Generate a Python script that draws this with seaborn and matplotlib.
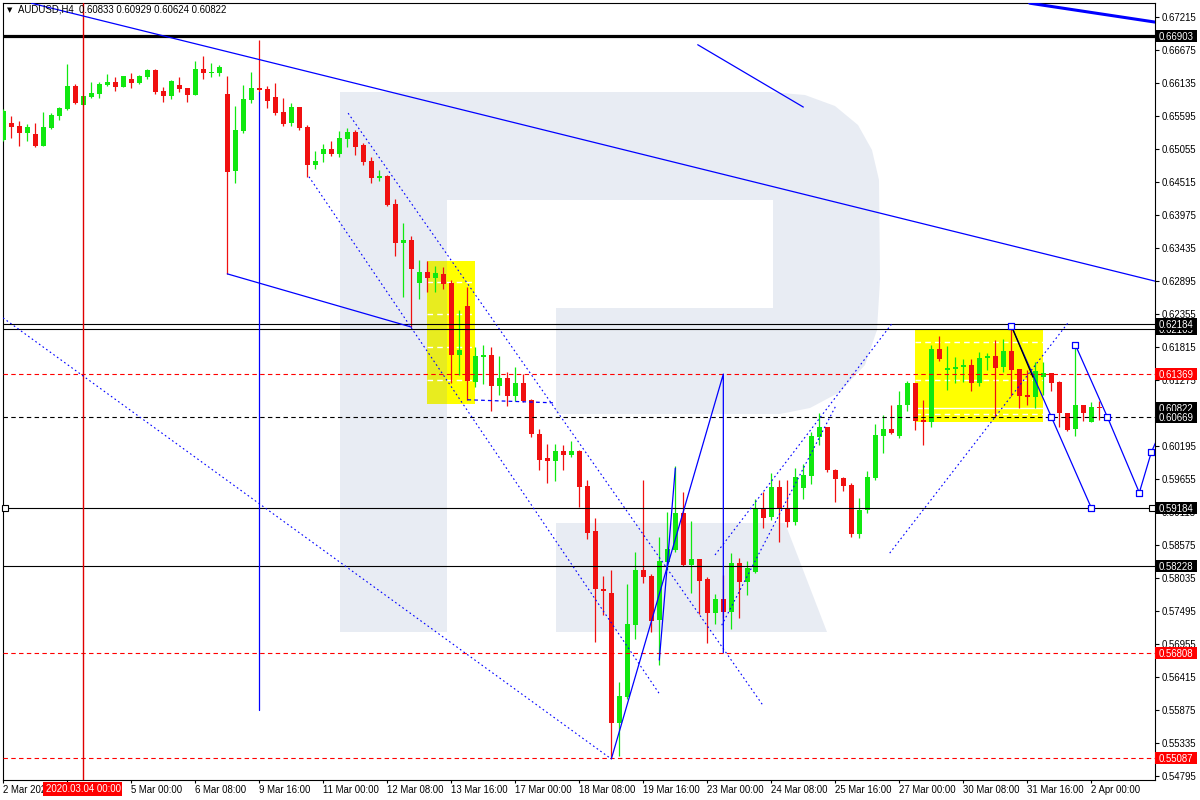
import numpy as np
import pandas as pd
import seaborn as sns
import matplotlib.pyplot as plt
from matplotlib.patches import Rectangle, Polygon
from matplotlib.transforms import blended_transform_factory

# AUDUSD H4 candles, bar 0 = 2 Mar 2020 08:00 (weekend bars are skipped)
open_ = [
    0.6520, 0.6548, 0.6543, 0.6532, 0.6530, 0.6510, 0.6540, 0.6559, 0.6571, 0.6608,
    0.6577, 0.6590, 0.6595, 0.6610, 0.6615, 0.6607, 0.6620, 0.6613, 0.6623, 0.6635,
    0.6600, 0.6592, 0.6610, 0.6605, 0.6594, 0.6636, 0.6630, 0.6630, 0.6595, 0.6469,
    0.6535, 0.6586, 0.6605, 0.6604, 0.6590, 0.6566, 0.6548, 0.6574, 0.6541, 0.6479,
    0.6497, 0.6505, 0.6497, 0.6522, 0.6533, 0.6512, 0.6486, 0.6458, 0.6461, 0.6415,
    0.6351, 0.6356, 0.6286, 0.6304, 0.6294, 0.6301, 0.6286, 0.6168, 0.6248, 0.6124,
    0.6165, 0.6168, 0.6117, 0.6131, 0.6101, 0.6122, 0.6095, 0.6039, 0.5999, 0.5995,
    0.6011, 0.6004, 0.6011, 0.5954, 0.5880, 0.5785, 0.5779, 0.5566, 0.5608, 0.5726,
    0.5816, 0.5806, 0.5735, 0.5829, 0.5849, 0.5910, 0.5824, 0.5834, 0.5801, 0.5746,
    0.5769, 0.5748, 0.5828, 0.5797, 0.5813, 0.5916, 0.5903, 0.5952, 0.5918, 0.5895,
    0.5950, 0.5970, 0.6034, 0.6050, 0.5980, 0.5967, 0.5955, 0.5875, 0.5915, 0.5967,
    0.6036, 0.6047, 0.6036, 0.6086, 0.6122, 0.6062, 0.6059, 0.6178, 0.6144, 0.6145,
    0.6149, 0.6152, 0.6122, 0.6163, 0.6167, 0.6149, 0.6175, 0.6145, 0.6103, 0.6099,
    0.6132, 0.6139, 0.6124, 0.6073, 0.6047, 0.6086, 0.6059, 0.60833,
]
high = [
    0.6571, 0.6559, 0.6551, 0.6546, 0.6548, 0.6566, 0.6564, 0.6574, 0.6644, 0.6612,
    0.6592, 0.6615, 0.6615, 0.6628, 0.6623, 0.6625, 0.6630, 0.6626, 0.6636, 0.6636,
    0.6607, 0.6618, 0.6623, 0.6605, 0.6649, 0.6658, 0.6646, 0.6643, 0.6625, 0.6576,
    0.6610, 0.6631, 0.6684, 0.6608, 0.6613, 0.6589, 0.6581, 0.6574, 0.6545, 0.6502,
    0.6514, 0.6518, 0.6535, 0.6540, 0.6536, 0.6515, 0.6492, 0.6471, 0.6463, 0.6424,
    0.6384, 0.6363, 0.6324, 0.6322, 0.6314, 0.6312, 0.6291, 0.6242, 0.6280, 0.6181,
    0.6185, 0.6181, 0.6167, 0.6140, 0.6149, 0.6137, 0.6096, 0.6047, 0.6022, 0.6022,
    0.6021, 0.6027, 0.6013, 0.5964, 0.5901, 0.5806, 0.5816, 0.5633, 0.5793, 0.5846,
    0.5964, 0.5810, 0.5870, 0.5911, 0.5987, 0.5944, 0.5897, 0.5834, 0.5805, 0.5777,
    0.5808, 0.5844, 0.5836, 0.5831, 0.5932, 0.5944, 0.5975, 0.5964, 0.5964, 0.5983,
    0.5990, 0.6042, 0.6073, 0.6050, 0.5981, 0.5969, 0.5959, 0.5934, 0.5978, 0.6055,
    0.6070, 0.6086, 0.6109, 0.6126, 0.6122, 0.6095, 0.6185, 0.6199, 0.6183, 0.6165,
    0.6162, 0.6162, 0.6173, 0.6171, 0.6193, 0.6194, 0.6214, 0.6145, 0.6144, 0.6157,
    0.6157, 0.6139, 0.6126, 0.6073, 0.6186, 0.6086, 0.6091, 0.60929,
]
low = [
    0.6518, 0.6523, 0.6510, 0.6518, 0.6509, 0.6510, 0.6538, 0.6553, 0.6569, 0.6579,
    0.6577, 0.6589, 0.6589, 0.6608, 0.6600, 0.6607, 0.6605, 0.6612, 0.6620, 0.6595,
    0.6582, 0.6587, 0.6599, 0.6582, 0.6594, 0.6620, 0.6623, 0.6625, 0.6301, 0.6450,
    0.6532, 0.6581, 0.6599, 0.6572, 0.6561, 0.6543, 0.6543, 0.6536, 0.6460, 0.6473,
    0.6484, 0.6494, 0.6492, 0.6509, 0.6496, 0.6479, 0.6450, 0.6453, 0.6412, 0.6330,
    0.6263, 0.6214, 0.6260, 0.6271, 0.6271, 0.6276, 0.6122, 0.6135, 0.6095, 0.6116,
    0.6121, 0.6077, 0.6103, 0.6085, 0.6093, 0.6091, 0.6034, 0.5980, 0.5959, 0.5962,
    0.5980, 0.6001, 0.5919, 0.5867, 0.5698, 0.5743, 0.5509, 0.5512, 0.5605, 0.5703,
    0.5795, 0.5715, 0.5661, 0.5816, 0.5846, 0.5823, 0.5779, 0.5744, 0.5697, 0.5728,
    0.5738, 0.5720, 0.5738, 0.5775, 0.5811, 0.5885, 0.5898, 0.5862, 0.5887, 0.5890,
    0.5932, 0.5957, 0.6021, 0.5977, 0.5928, 0.5946, 0.5870, 0.5869, 0.5910, 0.5964,
    0.6008, 0.6039, 0.6032, 0.6077, 0.6045, 0.6021, 0.6050, 0.6158, 0.6111, 0.6122,
    0.6124, 0.6109, 0.6117, 0.6144, 0.6067, 0.6140, 0.6101, 0.6082, 0.6086, 0.6082,
    0.6103, 0.6109, 0.6050, 0.6044, 0.6036, 0.6060, 0.6059, 0.60624,
]
close = [
    0.6567, 0.6541, 0.6532, 0.6541, 0.6510, 0.6541, 0.6561, 0.6572, 0.6608, 0.6581,
    0.6592, 0.6597, 0.6612, 0.6615, 0.6607, 0.6625, 0.6613, 0.6625, 0.6635, 0.6599,
    0.6592, 0.6617, 0.6604, 0.6594, 0.6636, 0.6630, 0.6631, 0.6640, 0.6468, 0.6536,
    0.6587, 0.6605, 0.6602, 0.6584, 0.6564, 0.6546, 0.6574, 0.6540, 0.6479, 0.6486,
    0.6505, 0.6497, 0.6523, 0.6533, 0.6509, 0.6484, 0.6458, 0.6461, 0.6414, 0.6351,
    0.6356, 0.6309, 0.6304, 0.6294, 0.6302, 0.6284, 0.6168, 0.6176, 0.6126, 0.6167,
    0.6168, 0.6117, 0.6131, 0.6101, 0.6122, 0.6093, 0.6039, 0.5996, 0.5995, 0.6011,
    0.6004, 0.6011, 0.5952, 0.5877, 0.5785, 0.5782, 0.5566, 0.5610, 0.5728, 0.5816,
    0.5805, 0.5733, 0.5831, 0.5851, 0.5910, 0.5824, 0.5834, 0.5798, 0.5746, 0.5769,
    0.5748, 0.5828, 0.5797, 0.5819, 0.5916, 0.5901, 0.5952, 0.5918, 0.5895, 0.5969,
    0.5972, 0.6036, 0.6050, 0.5980, 0.5965, 0.5954, 0.5875, 0.5915, 0.5969, 0.6037,
    0.6047, 0.6041, 0.6086, 0.6122, 0.6060, 0.6059, 0.6178, 0.6162, 0.6147, 0.6149,
    0.6152, 0.6122, 0.6163, 0.6167, 0.6147, 0.6175, 0.6144, 0.6101, 0.6099, 0.6142,
    0.6139, 0.6122, 0.6073, 0.6045, 0.6086, 0.6073, 0.6083, 0.60822,
]

price_ticks = [
    0.67215, 0.66675, 0.66135, 0.65595, 0.65055, 0.64515, 0.63975, 0.63435,
    0.62895, 0.62355, 0.61815, 0.61275, 0.60735, 0.60195, 0.59655, 0.59115,
    0.58575, 0.58035, 0.57495, 0.56955, 0.56415, 0.55875, 0.55335, 0.54795,
]
# the 3 Mar 16:00 label sits under the red cursor tag, so it stays empty
time_tick_bars = [0, 8, 16, 24, 32, 40, 48, 56, 64, 72, 80, 88, 96, 104, 112, 120, 128, 136]
time_tick_labels = [
    "2 Mar 2020", "", "5 Mar 00:00", "6 Mar 08:00", "9 Mar 16:00",
    "11 Mar 00:00", "12 Mar 08:00", "13 Mar 16:00", "17 Mar 00:00", "18 Mar 08:00",
    "19 Mar 16:00", "23 Mar 00:00", "24 Mar 08:00", "25 Mar 16:00", "27 Mar 00:00",
    "30 Mar 08:00", "31 Mar 16:00", "2 Apr 00:00",
]
cursor_bar = 10
cursor_label = "2020.03.04 00:00"

# horizontal levels
thick_level = 0.66903
black_levels = [0.62184, 0.62105, 0.59184, 0.58228]
red_dashed_levels = [0.61369, 0.56808, 0.55087]
black_dashed_level = 0.60669
# price tags in drawing order (later ones cover earlier ones)
tag_prices = [0.66903, 0.62105, 0.62184, 0.61369, 0.60822, 0.60669, 0.59184, 0.58228,
              0.56808, 0.55087]
tag_is_red = [False, False, False, True, False, False, False, False, True, True]

# drawn objects as (bar, price) points
ray_top = [(3.5, 0.6744), (144.0, 0.6289)]
short_top = [(86.8, 0.6676), (100.0, 0.6574)]
thick_top = [(128.3, 0.6744), (144.0, 0.6713)]
channel_base = [(28, 0.6301), (51, 0.6214)]
rebound_leg = [(76, 0.5507), (90, 0.6137), (90, 0.5681)]
spike_leg = [(82, 0.5669), (84, 0.5983)]
vertical_mark = [(32, 0.6599), (32, 0.5587)]
forecast_a = [(126, 0.6216), (131, 0.6067), (136, 0.5918)]
forecast_a_black = [(126, 0.6216), (128.7, 0.6132)]
forecast_b = [(134, 0.6185), (138, 0.6067), (142, 0.5943), (143.5, 0.6009), (144.2, 0.6030)]
dotted_lines = [
    [(-0.04, 0.6229), (75.8, 0.5509)],
    [(38.2, 0.6460), (82.1, 0.5612)],
    [(43.1, 0.6564), (95.0, 0.5594)],
    [(88.96, 0.5841), (111.1, 0.6220)],
    [(89.8, 0.5726), (104.1, 0.6086)],
    [(110.8, 0.5844), (133.1, 0.6221)],
]
dashed_flat = [(58, 0.6095), (68.7, 0.6090)]
level_squares = [(0.2, 0.59184), (143.6, 0.59184)]

# yellow boxes: bar from, bar to, price low, price high
yellow_boxes = [(52.96, 58.96, 0.6088, 0.6322), (114.0, 129.96, 0.6058, 0.6211)]
box1_dashes = [0.6288, 0.6235, 0.6181, 0.6127]
box2_dashes = [0.6189, 0.6127, 0.6072]
box2_solid = [0.6081]

# background logo outline in screen pixels
logo_stem = [(340, 92), (447, 92), (447, 632), (340, 632)]
logo_bowl = [(447, 92), (770, 92), (805, 95), (835, 106), (858, 125), (872, 150),
             (879, 180), (880, 280), (877, 330), (865, 365), (840, 392), (810, 408),
             (780, 414), (556, 414), (556, 308), (773, 308), (773, 200), (447, 200)]
logo_leg = [(556, 523), (785, 523), (827, 632), (556, 632)]

sns.set_theme(style="white")
plt.rcParams["font.family"] = ["Liberation Sans", "DejaVu Sans"]

df = pd.DataFrame({"bar": np.arange(len(close)), "open": open_, "high": high,
                   "low": low, "close": close})
df["up"] = df["close"] >= df["open"]
GREEN, RED, BLUE = "#10e810", "#f01010", "#0000ff"

fig = plt.figure(figsize=(12, 8), dpi=100)
ax = fig.add_axes([3 / 1200, 20 / 800, 1152 / 1200, 777 / 800])
ax.set_xlim(-0.04, 143.96)
ax.set_ylim(0.54727, 0.67443)
ax.set_facecolor("white")


def px_to_axes(pts):
    return [((px - 3) / 1152, (780 - py) / 777) for px, py in pts]


# yellow boxes and their inner levels
for b0, b1, p0, p1 in yellow_boxes:
    ax.add_patch(Rectangle((b0, p0), b1 - b0, p1 - p0, facecolor="#ffff00",
                           edgecolor="none", zorder=0.5))
b0, b1 = yellow_boxes[0][:2]
ax.hlines(box1_dashes, b0, b1, colors="white", lw=1, ls=(0, (4, 3)), zorder=1.2)
b0, b1 = yellow_boxes[1][:2]
ax.hlines(box2_dashes, b0, b1, colors="white", lw=1, ls=(0, (4, 3)), zorder=1.2)
ax.hlines(box2_solid, b0, b1, colors="white", lw=1, zorder=1.2)

# faint logo
for shape in (logo_stem, logo_bowl, logo_leg):
    ax.add_patch(Polygon(px_to_axes(shape), closed=True, transform=ax.transAxes,
                         facecolor="#7890bc", edgecolor="none", alpha=0.17, zorder=1))

# candles
colors = np.where(df["up"], GREEN, RED)
ax.vlines(df["bar"], df["low"], df["high"], colors=colors, lw=0.9, zorder=3)
body_low = df[["open", "close"]].min(axis=1)
body_h = (df["close"] - df["open"]).abs().clip(lower=0.00014)
ax.bar(df["bar"], body_h, bottom=body_low, width=0.62, color=colors, linewidth=0, zorder=3.1)

# horizontal levels
ax.axhline(thick_level, color="black", lw=2.3, zorder=4)
for p in black_levels:
    ax.axhline(p, color="black", lw=0.8, zorder=4)
for p in red_dashed_levels:
    ax.axhline(p, color="#ff0000", lw=0.8, ls=(0, (4, 3)), zorder=4)
ax.axhline(black_dashed_level, color="black", lw=0.8, ls=(0, (4, 3)), zorder=4)
ax.axvline(cursor_bar, color="#e00000", lw=1.0, zorder=4)

# drawn trend objects
for pts in (ray_top, short_top, channel_base, rebound_leg, spike_leg, vertical_mark,
            forecast_a, forecast_b):
    xs, ys = zip(*pts)
    ax.plot(xs, ys, color=BLUE, lw=0.9, zorder=5)
xs, ys = zip(*thick_top)
ax.plot(xs, ys, color=BLUE, lw=2.2, zorder=5)
xs, ys = zip(*forecast_a_black)
ax.plot(xs, ys, color="black", lw=0.9, zorder=5.1)
for pts in dotted_lines:
    xs, ys = zip(*pts)
    ax.plot(xs, ys, color=BLUE, lw=0.8, ls=(0, (1.5, 2.5)), zorder=5)
xs, ys = zip(*dashed_flat)
ax.plot(xs, ys, color=BLUE, lw=0.9, ls=(0, (3, 2.5)), zorder=5)

squares = pd.DataFrame(forecast_a[:3] + forecast_b[:4], columns=["bar", "price"])
sns.scatterplot(data=squares, x="bar", y="price", marker="s", s=22, facecolor="white",
                edgecolor=BLUE, linewidth=0.9, zorder=6, ax=ax, legend=False)
lsq = pd.DataFrame(level_squares, columns=["bar", "price"])
ax.plot(lsq["bar"], lsq["price"], ls="none", marker="s", ms=4, mfc="white", mec="black",
        mew=0.8, zorder=6, clip_on=False)

# axes styling
for s in ax.spines.values():
    s.set_color("black")
    s.set_linewidth(0.8)
ax.yaxis.tick_right()
ax.set_yticks(price_ticks)
ax.set_yticklabels([f"{p:.5f}" for p in price_ticks])
ax.set_xticks(time_tick_bars)
ax.set_xticklabels(time_tick_labels, ha="left")
ax.tick_params(axis="y", direction="out", length=3, width=0.8, pad=2, labelsize=6.9,
               colors="black", right=True, left=False)
ax.tick_params(axis="x", direction="out", length=2.5, width=0.8, pad=0.8, labelsize=6.9,
               colors="black", bottom=True)
ax.grid(False)

# price tags on the right axis, each one stacked above the previous
blend_y = blended_transform_factory(ax.transAxes, ax.transData)
tag_h = 12 * (0.67443 - 0.54727) / 777
for k, (p, is_red) in enumerate(zip(tag_prices, tag_is_red)):
    z = 20 + 2 * k
    ax.add_patch(Rectangle((1.0, p - tag_h / 2), 42 / 1152, tag_h, transform=blend_y,
                           facecolor="#ff0000" if is_red else "black", edgecolor="none",
                           clip_on=False, zorder=z))
    ax.text(1.0 + 4 / 1152, p, f"{p:.5f}", transform=blend_y, ha="left",
            va="center_baseline", color="white", fontsize=6.9, clip_on=False, zorder=z + 1)

# cursor time tag
blend_x = blended_transform_factory(ax.transData, ax.transAxes)
ax.add_patch(Rectangle((4.96, -16 / 777), 9.88, 14 / 777, transform=blend_x,
                       facecolor="#ff0000", edgecolor="none", clip_on=False, zorder=20))
ax.text(cursor_bar, -9 / 777, cursor_label, transform=blend_x, ha="center",
        va="center", color="white", fontsize=6.9, clip_on=False, zorder=21)

# header
fig.text(7 / 1200, 1 - 10 / 800, "\u25bc", fontsize=5, family="DejaVu Sans",
         va="center", ha="left", color="black")
fig.text(18 / 1200, 1 - 10 / 800,
         f"AUDUSD,H4  {open_[-1]:.5f} {high[-1]:.5f} {low[-1]:.5f} {close[-1]:.5f}",
         fontsize=6.9, va="center", ha="left", color="black")

fig.savefig("out.png", dpi=100, facecolor="white")
